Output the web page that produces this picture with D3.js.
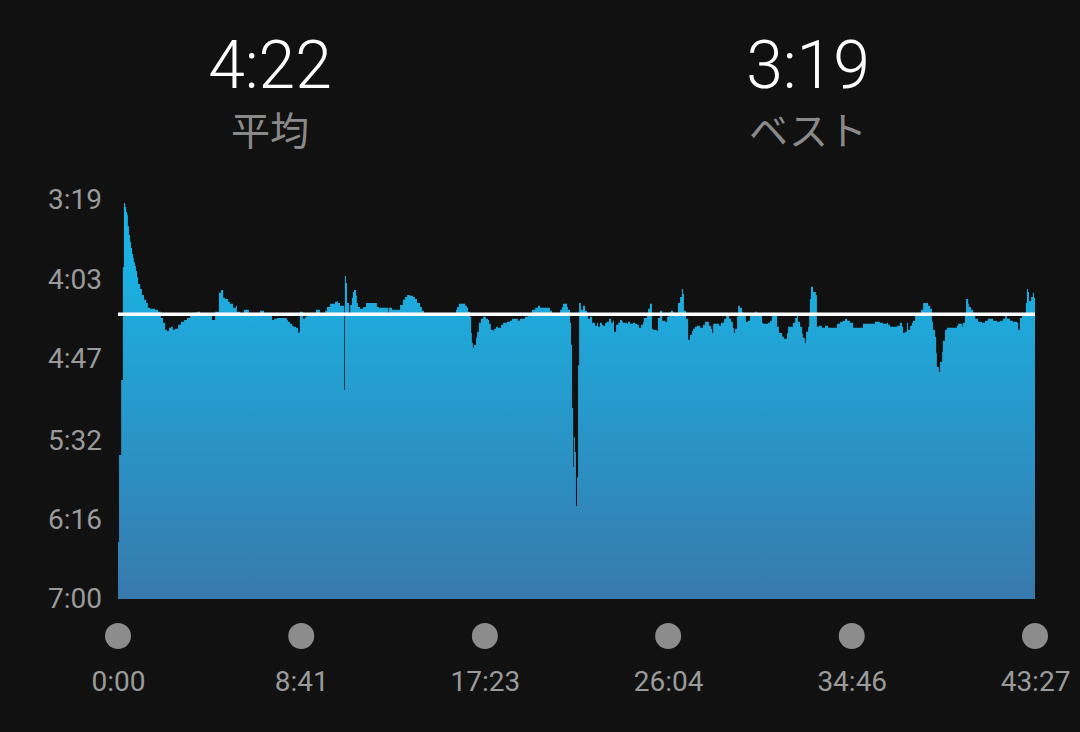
<!DOCTYPE html>
<html><head><meta charset="utf-8">
<script src="https://cdn.jsdelivr.net/npm/d3@7"></script>
<style>
html,body{margin:0;padding:0;background:#111111;}
svg{display:block;}
</style></head>
<body>
<svg id="chart" width="1080" height="732"></svg>
<script>
// ---- data ----
const summaryValues = ["4:22", "3:19"];
const summaryLabels = ["平均", "ベスト"];
const avgPace = 262;   // 4:22 s/km
const yTickValues = [199, 243, 287, 332, 376, 420];
const yTickLabels = ["3:19", "4:03", "4:47", "5:32", "6:16", "7:00"];
const xTickValues = [0, 521, 1043, 1564, 2086, 2607];
const xTickLabels = ["0:00", "8:41", "17:23", "26:04", "34:46", "43:27"];
// elapsed time (s)
const times = [0,3,9,14,17,20,23,26,28,31,34,37,40,43,45,48,51,54,57,63,68,74,80,85,91,105,114,122,128,134,139,145,151,156,162,171,179,188,196,205,213,225,233,267,276,287,293,299,304,313,318,327,335,338,347,358,372,404,415,438,444,452,480,483,489,495,498,506,512,515,517,526,532,537,563,574,589,594,603,617,623,625,631,643,645,648,651,657,660,665,668,671,677,679,682,688,697,705,736,742,768,770,779,802,810,816,822,830,839,844,850,859,864,870,961,964,969,987,992,995,1001,1004,1006,1009,1012,1018,1021,1026,1032,1038,1046,1052,1055,1060,1066,1069,1075,1080,1089,1095,1106,1114,1120,1137,1143,1157,1166,1177,1186,1194,1200,1228,1234,1257,1262,1265,1277,1279,1285,1288,1291,1294,1296,1299,1302,1305,1308,1311,1316,1322,1328,1333,1336,1342,1348,1356,1362,1365,1370,1376,1379,1385,1390,1396,1402,1407,1410,1416,1422,1427,1433,1436,1447,1450,1456,1464,1470,1476,1481,1487,1493,1495,1504,1507,1512,1518,1521,1532,1535,1541,1547,1555,1561,1566,1572,1578,1586,1592,1598,1603,1606,1609,1615,1621,1626,1632,1635,1640,1646,1655,1663,1669,1680,1686,1689,1692,1709,1714,1723,1729,1737,1743,1748,1751,1754,1760,1763,1768,1774,1777,1785,1791,1797,1811,1817,1831,1834,1848,1854,1859,1874,1879,1888,1893,1902,1905,1919,1925,1930,1933,1939,1945,1947,1953,1956,1962,1965,1967,1970,1976,1984,1987,1993,2001,2010,2019,2044,2053,2061,2067,2073,2081,2090,2118,2152,2166,2175,2186,2189,2195,2215,2223,2229,2232,2237,2243,2246,2252,2257,2260,2266,2283,2289,2303,2309,2314,2317,2323,2326,2328,2334,2337,2343,2345,2351,2357,2385,2388,2400,2402,2408,2411,2417,2419,2425,2431,2437,2445,2456,2465,2473,2488,2499,2508,2516,2522,2527,2536,2544,2556,2559,2564,2570,2581,2584,2587,2590,2596,2601,2604,2607];
// pace (s/km)
const paces = [388.4,340.2,298.7,236.1,200.7,202.9,205.6,207.3,213.4,218.4,222.3,225.6,228.9,231.1,233.3,235.5,238.3,241.6,245.5,248.3,251.6,254.3,256.0,258.7,259.3,259.8,260.9,264.3,267.0,270.9,271.5,269.8,269.2,270.9,270.3,268.1,266.5,265.4,264.3,262.6,261.5,260.9,262.1,265.4,260.9,250.4,248.8,253.2,253.8,255.4,256.5,258.7,257.6,260.9,262.1,259.8,262.1,260.4,262.1,265.4,264.8,264.3,265.4,266.5,267.6,268.7,269.2,269.8,272.6,272.0,260.9,264.8,263.7,262.1,259.8,262.1,260.4,258.2,256.5,255.4,254.9,256.0,257.6,304.2,241.1,245.0,256.0,261.5,257.1,253.2,249.9,248.8,252.1,256.0,258.2,259.3,258.2,256.0,258.2,258.7,261.5,258.7,259.8,257.1,254.3,252.7,251.6,252.1,252.7,253.8,256.0,258.2,260.4,262.1,259.8,258.2,256.5,257.6,258.7,260.9,263.7,272.6,278.1,280.9,279.2,275.3,272.0,267.0,264.8,263.7,264.8,265.4,267.6,270.9,271.5,270.3,269.2,269.8,268.1,267.0,266.5,265.9,264.8,265.9,264.8,263.7,262.1,259.8,258.7,257.6,258.7,260.4,262.1,259.8,258.2,256.5,258.2,259.8,267.0,279.2,314.2,346.9,330.3,338.6,368.5,352.4,290.4,256.0,259.8,257.6,260.4,262.1,264.8,263.7,267.0,268.7,267.0,269.2,267.0,268.1,268.7,267.0,266.5,264.8,267.0,265.9,272.0,268.1,267.0,265.4,266.5,267.0,267.6,266.5,267.6,267.0,267.6,268.1,269.8,268.1,266.5,264.3,261.5,259.3,256.5,270.3,270.9,271.5,264.3,260.4,265.9,266.5,263.7,261.5,260.4,261.5,262.1,256.0,252.7,248.3,251.0,260.4,264.8,276.4,273.7,271.5,270.3,269.2,268.7,269.8,268.1,266.5,268.7,270.3,272.6,267.6,268.7,267.0,264.8,262.1,264.8,266.5,269.8,272.6,270.3,263.7,257.6,258.7,260.9,262.1,266.5,265.9,262.1,260.9,262.1,267.0,267.6,267.0,265.9,262.1,269.2,272.6,274.8,275.9,272.6,269.2,267.0,264.3,262.1,266.5,269.2,273.1,275.3,278.1,272.0,269.2,262.1,253.8,247.1,249.9,251.6,269.2,268.7,269.8,268.7,269.8,267.6,266.5,265.9,264.8,265.9,267.0,269.8,267.6,266.5,267.0,267.6,267.0,268.1,269.2,268.7,267.0,269.2,272.6,272.0,267.0,270.9,268.7,267.0,265.9,262.1,259.8,256.0,257.6,259.3,266.5,270.9,274.8,283.7,291.5,294.3,288.7,283.1,277.0,270.9,269.8,268.7,267.6,269.2,267.0,262.1,253.8,256.5,258.2,259.8,262.1,264.8,266.5,267.0,265.9,264.8,265.9,266.5,265.9,264.8,262.1,264.8,265.9,266.5,267.0,270.9,264.3,262.1,256.0,248.3,249.9,254.9,252.7,250.4,253.2,253.2];

// ---- chart ----
const svg = d3.select("#chart");
const x = d3.scaleLinear().domain([0, 2607]).range([118, 1035]);
const y = d3.scaleLinear().domain([199, 420]).range([200, 599]);
const series = times.map((t, i) => ({t: t, p: paces[i]}));

const defs = svg.append("defs");
const grad = defs.append("linearGradient").attr("id", "g")
  .attr("gradientUnits", "userSpaceOnUse")
  .attr("x1", 0).attr("x2", 0).attr("y1", y(199)).attr("y2", y(420));
grad.append("stop").attr("offset", 0).attr("stop-color", "#14b9ea");
grad.append("stop").attr("offset", 0.3).attr("stop-color", "#1fa8da");
grad.append("stop").attr("offset", 1).attr("stop-color", "#3879ac");

const area = d3.area()
  .x(d => x(d.t)).y0(y(420)).y1(d => y(d.p))
  .curve(d3.curveStepAfter);
svg.append("path").datum(series).attr("d", area).attr("fill", "url(#g)");

// average line
svg.append("line")
  .attr("x1", x(0)).attr("x2", x(2607))
  .attr("y1", y(avgPace) + 0.5).attr("y2", y(avgPace) + 0.5)
  .attr("stroke", "#ffffff").attr("stroke-width", 3.5);

// y axis
const yAxis = d3.axisLeft(y).tickValues(yTickValues)
  .tickFormat((d, i) => yTickLabels[i]).tickSize(0).tickPadding(0);
const gy = svg.append("g").attr("transform", "translate(102,0)").call(yAxis);
gy.select(".domain").remove();
gy.selectAll("text").attr("fill", "#9a9a9a")
  .style("font-family", "Roboto, 'Noto Sans', sans-serif").style("font-size", "28px");

// x axis markers
svg.append("g").selectAll("circle").data(xTickValues).join("circle")
  .attr("cx", d => x(d)).attr("cy", 636).attr("r", 13).attr("fill", "#8c8c8c");
const xAxis = d3.axisBottom(x).tickValues(xTickValues)
  .tickFormat((d, i) => xTickLabels[i]).tickSize(0).tickPadding(0);
const gx = svg.append("g").attr("transform", "translate(0,671)").call(xAxis);
gx.select(".domain").remove();
gx.selectAll("text").attr("fill", "#9a9a9a")
  .style("font-family", "Roboto, 'Noto Sans', sans-serif").style("font-size", "28px");

// header
const heads = [270, 808];
svg.append("g").selectAll("text").data(summaryValues).join("text")
  .attr("x", (d, i) => heads[i]).attr("y", 88).attr("text-anchor", "middle")
  .attr("fill", "#ffffff").style("font-family", "Roboto, 'Noto Sans', sans-serif")
  .style("font-weight", 300).style("font-size", "66px").text(d => d);
svg.append("g").selectAll("text").data(summaryLabels).join("text")
  .attr("x", (d, i) => heads[i]).attr("y", 145).attr("text-anchor", "middle")
  .attr("fill", "#8a8a8a").style("font-family", "'Noto Sans CJK JP', sans-serif")
  .style("font-size", "39px").text(d => d);
</script>
</body></html>
